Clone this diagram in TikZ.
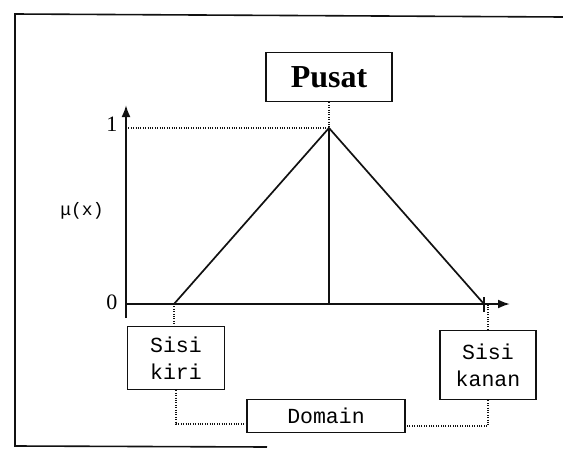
\documentclass[tikz,border=0pt]{standalone}
\usepackage{fontspec}
\setmainfont{Liberation Serif}
\setmonofont{Liberation Mono}
\usetikzlibrary{arrows.meta}
\definecolor{ink}{HTML}{111111}

\begin{document}
\begin{tikzpicture}[x=1pt, y=-1pt, font=\ttfamily\fontsize{21.5}{27}\selectfont,
  tbox/.style={draw=ink, line width=1.8pt, align=center, inner sep=0pt},
  guide/.style={draw=ink, line width=1.1pt, dash pattern=on 1pt off 1.4pt},
  axis/.style={draw=ink, line width=2pt, -{Latex[length=12pt,width=9pt]}}]
  \useasboundingbox (0,0) rectangle (563,450);
  % cadre du scan, ouvert a droite
  \draw[ink, line width=1.6pt] (563,17) -- (15,14) -- (15,446) -- (267,447);
  % axes et triangle
  \coordinate (orig) at (126,304);
  \coordinate (ybot) at (126,318);
  \coordinate (ytop) at (126,105);
  \coordinate (xend) at (510,304);
  \coordinate (peak) at (329,128);
  \coordinate (lfoot) at (174,304);
  \coordinate (rfoot) at (484,304);
  \draw[axis] (ybot) -- (ytop);
  \draw[axis] (orig) -- (xend);
  \draw[ink, line width=1.7pt] (lfoot) -- (peak) -- (rfoot);
  \draw[ink, line width=1.7pt] (peak) -- (peak |- orig);
  \draw[ink, line width=1.6pt] ([yshift=7pt]rfoot) -- ([yshift=-8pt]rfoot);
  \begin{scope}[every node/.style={anchor=east, font=\rmfamily\fontsize{22}{22}\selectfont}]
    \foreach \v/\h in {0/302, 1/124} {
      \node (lab\v) at (121,\h) {\v};
    }
  \end{scope}
  \node[font=\ttfamily\fontsize{18}{18}\selectfont] (mu) at (82,211) {μ(x)};
  % les boites
  \node[tbox, minimum width=126pt, minimum height=49pt,
    font=\rmfamily\bfseries\fontsize{32}{32}\selectfont] (pusat) at (329,77) {Pusat};
  \node[tbox, minimum width=97pt, minimum height=63pt] (kiri) at (176,358) {Sisi\\kiri};
  \node[tbox, minimum width=96pt, minimum height=69pt] (kanan) at (488,365) {Sisi\\kanan};
  \node[tbox, minimum width=158pt, minimum height=33pt] (domain) at (326,416) {Domain};
  % pointilles de rappel
  \draw[guide] (pusat) -- (peak);
  \draw[guide] (orig |- peak) -- (peak);
  \draw[guide] (lfoot) -- (lfoot |- kiri.north);
  \draw[guide] (kanan) -- (kanan |- rfoot);
  \draw[guide] (kiri) |- ([yshift=-8pt]domain.west);
  \draw[guide] (kanan) |- ([yshift=-10pt]domain.east);
\end{tikzpicture}
\end{document}
